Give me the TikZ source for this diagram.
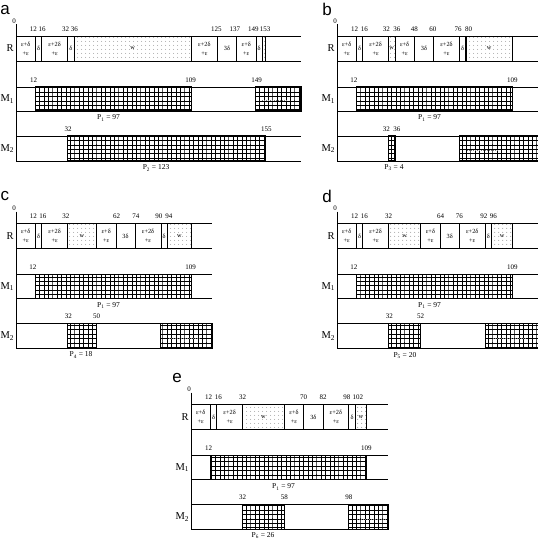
\documentclass[tikz,border=0pt]{standalone}
\usepackage{fontspec}
\setmainfont{Liberation Serif}
\setsansfont{Liberation Sans}
\usetikzlibrary{patterns}
\pgfdeclarepatternformonly{mygrid}{\pgfqpoint{-0.5pt}{-0.5pt}}{\pgfqpoint{4.5pt}{4.5pt}}{\pgfqpoint{4.4pt}{4.4pt}}{%
  \pgfsetlinewidth{0.9pt}%
  \pgfpathmoveto{\pgfqpoint{0pt}{-0.5pt}}\pgfpathlineto{\pgfqpoint{0pt}{4.9pt}}%
  \pgfpathmoveto{\pgfqpoint{-0.5pt}{0pt}}\pgfpathlineto{\pgfqpoint{4.9pt}{0pt}}%
  \pgfusepath{stroke}}
\pgfdeclarepatternformonly{mydots}{\pgfpointorigin}{\pgfqpoint{3.6pt}{3.6pt}}{\pgfqpoint{3.6pt}{3.6pt}}{%
  \pgfpathcircle{\pgfqpoint{1.8pt}{1.8pt}}{0.5pt}\pgfusepath{fill}}
\def\pn{a}
\newcommand\tED{ε+δ\\+ε}
\newcommand\tEDD{ε+2δ\\+ε}
\newcommand\mkrows[1]{%
  \draw[axisline] (0,24) -- (0,161);
  \foreach \yy in {36,61,87,111,136,161} \draw[rowline] (0,\yy) -- (#1,\yy);
  \node[rowlab] (\pn-R) at (-1.4,48.5) {R};
  \node[rowlab] (\pn-M1) at (-1.1,99) {M\textsubscript{1}};
  \node[rowlab] (\pn-M2) at (-1.1,148.5) {M\textsubscript{2}};
  \node[num] (\pn-zero) at (-1.2,21) {0};}
\newcommand\mkcell[3]{%
  \draw[cellbox] (#1,36) rectangle (#2,61);
  \node[celltxt] (\pn-c#1) at ({(#1+#2)/2},48.5) {#3};}
\newcommand\mkwcell[3]{%
  \draw[wcell] (#1,36) rectangle (#2,61);
  \node[celltxt] (\pn-c#1) at ({(#1+#2)/2},48.5) {#3};}
\newcommand\mkhatch[4]{\draw[hatch] (#1,#3) rectangle (#2,#4);}
\newcommand\mklab[3]{\node[num] (\pn-l#3-#2) at (#1,#3) {#2};}
\begin{document}
\begin{tikzpicture}[x=1pt,y=-1pt,
  rowline/.style={line width=0.6pt},
  axisline/.style={line width=0.7pt},
  cellbox/.style={draw,line width=0.6pt},
  wcell/.style={draw,line width=0.6pt,pattern=mydots,pattern color=black!50},
  hatch/.style={draw,line width=1.1pt,pattern=mygrid},
  thickb/.style={line width=1.3pt},
  dline/.style={gray,line width=0.5pt,dash pattern=on 1pt off 1pt},
  num/.style={font=\fontsize{7}{7}\selectfont,inner sep=0pt},
  celltxt/.style={font=\fontsize{6.3}{8.8}\selectfont,inner sep=0pt,align=center},
  rowlab/.style={font=\fontsize{10.5}{10.5}\selectfont,inner sep=0pt,anchor=east},
  plab/.style={font=\fontsize{7.5}{7.5}\selectfont,inner sep=0pt},
  plet/.style={font=\fontsize{17}{17}\sffamily,inner sep=0pt}]
\useasboundingbox (0,0) rectangle (538,541);
% panel letters
\node[plet] (let-a) at (5,10) {a};
\node[plet] (let-b) at (327,9) {b};
\node[plet] (let-c) at (5,196) {c};
\node[plet] (let-d) at (327,196) {d};
\node[plet] (let-e) at (177,378) {e};
% ---------------- panel a
\begin{scope}[shift={(16,0)},xscale=1.61]
\def\pn{a}
\mkrows{177}
\mkcell{0}{12}{\tED}
\mkcell{12}{16}{δ}
\mkcell{16}{32}{\tEDD}
\mkcell{32}{36}{δ}
\mkwcell{36}{109}{w}
\mkcell{109}{125}{\tEDD}
\mkcell{125}{137}{3δ}
\mkcell{137}{149}{\tED}
\mkcell{149}{153}{δ}
\mkwcell{153}{155}{}
\draw[thickb] (153,36) -- (153,61);
\mklab{10.8}{12}{29}\mklab{16.3}{16}{29}\mklab{30.8}{32}{29}\mklab{36.3}{36}{29}
\mklab{124.5}{125}{29}\mklab{136}{137}{29}\mklab{147.4}{149}{29}\mklab{154.8}{153}{29}
\mkhatch{12}{109}{87}{111}
\mkhatch{149}{177}{87}{111}
\draw[dline] (153,100) -- (169,100);
\mklab{11}{12}{80}\mklab{108.5}{109}{80}\mklab{149.5}{149}{80}
\mkhatch{32}{155}{136}{161}
\mklab{32.3}{32}{129}\mklab{155.5}{155}{129}
\node[plab] (a-p1) at (57.5,118) {P\textsubscript{1} = 97};
\node[plab] (a-p2) at (87,168) {P\textsubscript{2} = 123};
\end{scope}
% ---------------- panel b
\begin{scope}[shift={(337,0)},xscale=1.61]
\def\pn{b}
\mkrows{125}
\mkcell{0}{12}{\tED}
\mkcell{12}{16}{δ}
\mkcell{16}{32}{\tEDD}
\mkwcell{32}{36}{w}
\mkcell{36}{48}{\tED}
\mkcell{48}{60}{3δ}
\mkcell{60}{76}{\tEDD}
\mkcell{76}{80}{δ}
\mkwcell{80}{109}{w}
\draw[thickb] (80,36) -- (80,61);
\mklab{11}{12}{29}\mklab{17}{16}{29}\mklab{30.6}{32}{29}\mklab{37.2}{36}{29}
\mklab{48}{48}{29}\mklab{59.5}{60}{29}\mklab{75.2}{76}{29}\mklab{81.7}{80}{29}
\mkhatch{12}{109}{87}{111}
\mklab{10.5}{12}{80}\mklab{109}{109}{80}
\mkhatch{32}{36}{136}{161}
\mkhatch{76}{125}{136}{161}
\draw[dline] (81,150) -- (100,150);
\mklab{30.6}{32}{129}\mklab{37.2}{36}{129}
\node[plab] (b-p1) at (57.5,118) {P\textsubscript{1} = 97};
\node[plab] (b-p3) at (35.4,168) {P\textsubscript{3} = 4};
\end{scope}
% ---------------- panel c
\begin{scope}[shift={(16,187.5)},xscale=1.61]
\def\pn{c}
\mkrows{122}
\mkcell{0}{12}{\tED}
\mkcell{12}{16}{δ}
\mkcell{16}{32}{\tEDD}
\mkwcell{32}{50}{w}
\mkcell{50}{62}{\tED}
\mkcell{62}{74}{3δ}
\mkcell{74}{90}{\tEDD}
\mkcell{90}{94}{δ}
\mkwcell{94}{109}{w}
\draw[thickb] (94,36) -- (94,61);
\mklab{10.8}{12}{29}\mklab{16.7}{16}{29}\mklab{31}{32}{29}\mklab{62.5}{62}{29}
\mklab{74.5}{74}{29}\mklab{88.8}{90}{29}\mklab{95}{94}{29}
\mkhatch{12}{109}{87}{111}
\mklab{10.5}{12}{80}\mklab{108.5}{109}{80}
\mkhatch{32}{50}{136}{161}
\mkhatch{90}{122}{136}{161}
\draw[dline] (95,150.5) -- (114,150.5);
\mklab{32.5}{32}{129}\mklab{50}{50}{129}
\node[plab] (c-p1) at (57.5,118) {P\textsubscript{1} = 97};
\node[plab] (c-p4) at (40.4,167.5) {P\textsubscript{4} = 18};
\end{scope}
% ---------------- panel d
\begin{scope}[shift={(337,187.5)},xscale=1.61]
\def\pn{d}
\mkrows{125}
\mkcell{0}{12}{\tED}
\mkcell{12}{16}{δ}
\mkcell{16}{32}{\tEDD}
\mkwcell{32}{52}{w}
\mkcell{52}{64}{\tED}
\mkcell{64}{76}{3δ}
\mkcell{76}{92}{\tEDD}
\mkcell{92}{96}{δ}
\mkwcell{96}{109}{w}
\draw[thickb] (96,36) -- (96,61);
\mklab{11}{12}{29}\mklab{17}{16}{29}\mklab{32}{32}{29}\mklab{64.3}{64}{29}
\mklab{76}{76}{29}\mklab{91.2}{92}{29}\mklab{97.2}{96}{29}
\mkhatch{12}{109}{87}{111}
\mklab{10.5}{12}{80}\mklab{109}{109}{80}
\mkhatch{32}{52}{136}{161}
\mkhatch{92}{125}{136}{161}
\draw[dline] (97,150.5) -- (117,150.5);
\mklab{32.5}{32}{129}\mklab{52}{52}{129}
\node[plab] (d-p1) at (57.5,118) {P\textsubscript{1} = 97};
\node[plab] (d-p5) at (42.2,168) {P\textsubscript{5} = 20};
\end{scope}
% ---------------- panel e
\begin{scope}[shift={(191,368.5)},xscale=1.61]
\def\pn{e}
\mkrows{122.4}
\mkcell{0}{12}{\tED}
\mkcell{12}{16}{δ}
\mkcell{16}{32}{\tEDD}
\mkwcell{32}{58}{w}
\mkcell{58}{70}{\tED}
\mkcell{70}{82}{3δ}
\mkcell{82}{98}{\tEDD}
\mkcell{98}{102}{δ}
\mkwcell{102}{109}{w}
\draw[thickb] (102,36) -- (102,61);
\mklab{11}{12}{29}\mklab{17}{16}{29}\mklab{32}{32}{29}\mklab{70}{70}{29}
\mklab{82}{82}{29}\mklab{96.8}{98}{29}\mklab{103.7}{102}{29}
\mkhatch{12}{109}{87}{111}
\mklab{11}{12}{80}\mklab{109}{109}{80}
\mkhatch{32}{58}{136}{161}
\mkhatch{98}{122.4}{136}{161}
\draw[dline] (103,150.5) -- (121.5,150.5);
\mklab{32}{32}{129}\mklab{58}{58}{129}\mklab{98}{98}{129}
\node[plab] (e-p1) at (57.5,118.5) {P\textsubscript{1} = 97};
\node[plab] (e-p6) at (44.7,167.5) {P\textsubscript{6} = 26};
\end{scope}
\end{tikzpicture}
\end{document}
